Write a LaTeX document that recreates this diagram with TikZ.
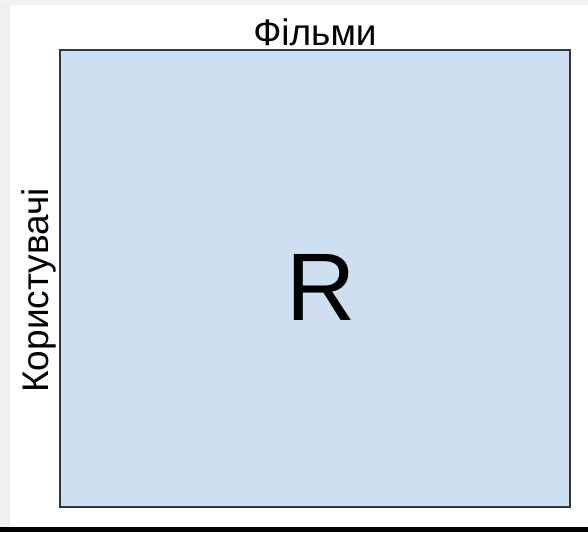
\documentclass[tikz,border=0pt]{standalone}
\usepackage{fontspec}
\setmainfont{Liberation Sans}
\usetikzlibrary{positioning}
\definecolor{matrixfill}{RGB}{206,223,242}
\definecolor{matrixline}{RGB}{50,54,60}
\begin{document}
\begin{tikzpicture}[x=1pt, y=-1pt]
    \useasboundingbox (0,0) rectangle (588,532);
    %   Screenshot edges
    \fill[gray!10] (0,0) rectangle (588,5);
    \fill[gray!12] (0,5) rectangle (10,527);
    \fill[black] (0,527) rectangle (588,532);
    %   Rating matrix with its two axes
    \node[draw=matrixline, line width=1.5pt, rectangle, fill=matrixfill, minimum width=510pt, minimum height=457pt] (matrix) at (315,278.5) {};
    \node[font=\fontsize{96}{96}\selectfont] (rlabel) at (321,287.5) {R};
    \node[above=0pt of matrix, font=\fontsize{37}{37}\selectfont] (films) {Фільми};
    \node[rotate=90, anchor=south, xshift=-12pt, font=\fontsize{37}{37}\selectfont] (users) at (matrix.west) {Користувачі};
\end{tikzpicture}
\end{document}
